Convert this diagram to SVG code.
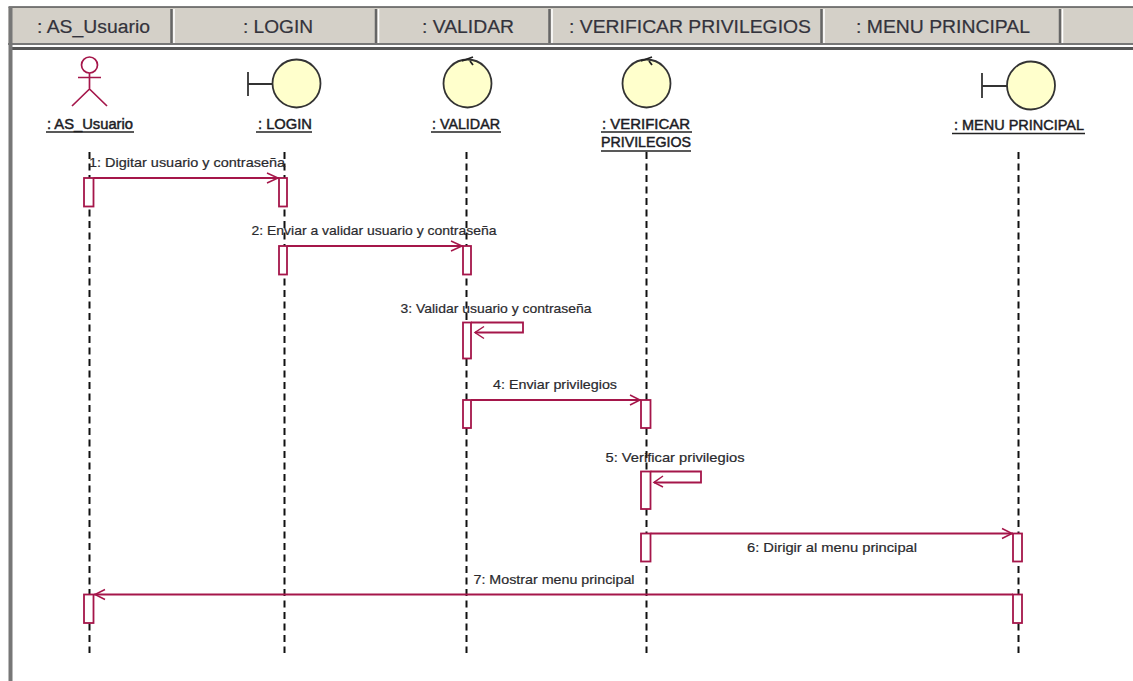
<svg xmlns="http://www.w3.org/2000/svg" width="1133" height="681" viewBox="0 0 1133 681">
<style>
text{font-family:"Liberation Sans",Arial,sans-serif;fill:#1c1c24}
.hd{font-size:18px;text-anchor:middle;fill:#33333c;stroke:#33333c;stroke-width:.2}
.tab{fill:#d4d0c8;stroke:#fff;stroke-width:1}
.nm{font-size:14px;text-anchor:middle;stroke:#1c1c24;stroke-width:.45}
.u{stroke:#222;stroke-width:1.4}
.msg{font-size:13px;fill:#2a2a2e;stroke:#2a2a2e;stroke-width:.2;text-anchor:middle}
.life{stroke:#111;stroke-width:2;stroke-dasharray:7 4.500;fill:none}
.act{fill:#fff;stroke:#a5164a;stroke-width:1.800}
.con{fill:none;stroke:#a5164a;stroke-width:1.800}
.head{fill:none;stroke:#a5164a;stroke-width:1.500}
.ball{fill:#ffffcc;stroke:#333;stroke-width:1.800}
.ln{fill:none;stroke:#333;stroke-width:1.800}
.actor{fill:none;stroke:#a5164a;stroke-width:1.700}
</style>
<rect width="1133" height="681" fill="#fff"/>
<g id="chrome">
<rect x="8.500" y="7" width="1125" height="38" fill="#d4d0c8"/>
<path d="M8.500 7H1133" stroke="#555" stroke-width="1.500" fill="none"/>
<path d="M8 44H1133" stroke="#777" stroke-width="2" fill="none"/>
<path d="M11 48.500H1133" stroke="#555" stroke-width="3" fill="none"/>
<path d="M10.500 7V681" stroke="#777" stroke-width="4" fill="none"/>
<path d="M171.500 9V43M376 9V43M549.500 9V43M821.500 9V43M1060 9V43" stroke="#666" stroke-width="2.500" fill="none"/>
<path d="M174 9V43M378.500 9V43M552 9V43M824 9V43M1062.500 9V43" stroke="#fff" stroke-width="1.500" fill="none"/>
<text class="hd" x="93.500" y="33" textLength="113" lengthAdjust="spacingAndGlyphs">: AS_Usuario</text>
<text class="hd" x="278" y="33" textLength="70" lengthAdjust="spacingAndGlyphs">: LOGIN</text>
<text class="hd" x="468" y="33" textLength="92" lengthAdjust="spacingAndGlyphs">: VALIDAR</text>
<text class="hd" x="690" y="33" textLength="242" lengthAdjust="spacingAndGlyphs">: VERIFICAR PRIVILEGIOS</text>
<text class="hd" x="943" y="33" textLength="174" lengthAdjust="spacingAndGlyphs">: MENU PRINCIPAL</text>
</g>
<g id="connectors">
<path class="life" d="M89.500 152V653M284.500 152V653M466.500 152V653M646.500 152V653M1018.500 152V653"/>
</g>
<g id="node-as-usuario">
<circle class="actor" cx="89.500" cy="65" r="8"/>
<path class="actor" d="M89.500 73V89M78 77.500H101M89.500 89L72 106M89.500 89L107 106"/>
<text class="nm" x="90" y="129" textLength="86" lengthAdjust="spacingAndGlyphs">: AS_Usuario</text>
<path class="u" d="M46 132H134"/>
</g>
<g id="node-login">
<path class="ln" d="M248 72V96M248 84H272"/>
<circle class="ball" cx="296.500" cy="83.500" r="24"/>
<text class="nm" x="285" y="129" textLength="54" lengthAdjust="spacingAndGlyphs">: LOGIN</text>
<path class="u" d="M256 132H312"/>
</g>
<g id="node-validar">
<circle class="ball" cx="467.500" cy="83.500" r="24"/>
<path d="M462 61L473 57M470 61L473 65" fill="none" stroke="#222" stroke-width="1.800"/>
<text class="nm" x="466" y="129" textLength="68" lengthAdjust="spacingAndGlyphs">: VALIDAR</text>
<path class="u" d="M431 132H501"/>
</g>
<g id="node-verificar">
<circle class="ball" cx="646.500" cy="83.500" r="24"/>
<path d="M641 61L652 57M649 61L652 65" fill="none" stroke="#222" stroke-width="1.800"/>
<text class="nm" x="646" y="129" textLength="88" lengthAdjust="spacingAndGlyphs">: VERIFICAR</text>
<path class="u" d="M601 132H692"/>
<text class="nm" x="646" y="147" textLength="90" lengthAdjust="spacingAndGlyphs">PRIVILEGIOS</text>
<path class="u" d="M601 151H691"/>
</g>
<g id="node-menu">
<path class="ln" d="M982 73V98M982 86H1007"/>
<circle class="ball" cx="1031" cy="85.500" r="24"/>
<text class="nm" x="1019" y="130" textLength="130" lengthAdjust="spacingAndGlyphs">: MENU PRINCIPAL</text>
<path class="u" d="M952 133.500H1085"/>
</g>
<g id="messages">
<rect class="act" x="84" y="178" width="9.500" height="28.500"/>
<rect class="act" x="279" y="178" width="8" height="28.500"/>
<path class="con" d="M93.500 178H279"/>
<path class="head" d="M267 173L278 178L267 183"/>
<text class="msg" x="187" y="167" textLength="196" lengthAdjust="spacingAndGlyphs">1: Digitar usuario y contraseña</text>
<rect class="act" x="279" y="246" width="8" height="28.500"/>
<rect class="act" x="463" y="246" width="8" height="28.500"/>
<path class="con" d="M287 246H463"/>
<path class="head" d="M451 241L462 246L451 251"/>
<text class="msg" x="374" y="235" textLength="245" lengthAdjust="spacingAndGlyphs">2: Enviar a validar usuario y contraseña</text>
<rect class="act" x="463" y="322.500" width="8" height="36"/>
<path class="con" d="M471 322.500H523V332.500H475"/>
<path class="head" d="M484 326.500L475 332.500L484 338.500"/>
<text class="msg" x="496" y="313" textLength="191" lengthAdjust="spacingAndGlyphs">3: Validar usuario y contraseña</text>
<rect class="act" x="463" y="400" width="8" height="28"/>
<rect class="act" x="641" y="400" width="9.500" height="28"/>
<path class="con" d="M471 400H641"/>
<path class="head" d="M630 395L640 400L630 405"/>
<text class="msg" x="555" y="389" textLength="124" lengthAdjust="spacingAndGlyphs">4: Enviar privilegios</text>
<rect class="act" x="641" y="471.500" width="9.500" height="37.500"/>
<path class="con" d="M650.500 471.500H701V482.500H654"/>
<path class="head" d="M663 476L654 482.500L663 487"/>
<text class="msg" x="675" y="462" textLength="139" lengthAdjust="spacingAndGlyphs">5: Verificar privilegios</text>
<rect class="act" x="641" y="533.500" width="9.500" height="28"/>
<rect class="act" x="1013" y="533.500" width="9" height="28"/>
<path class="con" d="M650.500 533.500H1013"/>
<path class="head" d="M1002 528.500L1012 533.500L1002 538.500"/>
<text class="msg" x="832" y="552" textLength="170" lengthAdjust="spacingAndGlyphs">6: Dirigir al menu principal</text>
<rect class="act" x="84" y="594.500" width="9.500" height="28.500"/>
<rect class="act" x="1013" y="594.500" width="9" height="28.500"/>
<path class="con" d="M94 594.500H1013"/>
<path class="head" d="M105 589.500L95 594.500L105 599.500"/>
<text class="msg" x="554" y="584" textLength="161" lengthAdjust="spacingAndGlyphs">7: Mostrar menu principal</text>
</g>
</svg>
